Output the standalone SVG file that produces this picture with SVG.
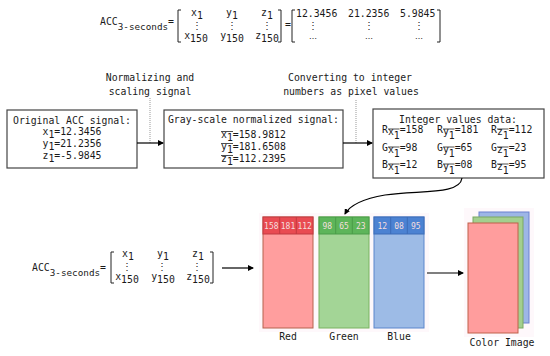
<svg xmlns="http://www.w3.org/2000/svg" width="550" height="356" viewBox="0 0 550 356">
<style>
text{font-family:"DejaVu Sans Mono","Liberation Mono",monospace;font-size:9.8px;fill:#1a1a1a}
.mid{text-anchor:middle}
.ell{font-family:"DejaVu Sans",sans-serif;font-size:8px}
.box{fill:#fff;stroke:#444;stroke-width:1.2}
.br{fill:none;stroke:#222;stroke-width:1}
.ov{stroke:#222;stroke-width:0.8}
.con{fill:none;stroke:#000;stroke-width:1.2}
.dot{fill:none;stroke:#999;stroke-width:1;stroke-dasharray:1,1}
.cell{font-size:8px;fill:#f4dede;text-anchor:middle}
.lbl{text-anchor:middle}
</style>
<defs>
<marker id="ah" markerWidth="6" markerHeight="6" refX="5" refY="3" orient="auto" markerUnits="userSpaceOnUse">
<path d="M0,0 L6,3 L0,6 Z" fill="#000"/>
</marker>
</defs>

<g id="top-matrix">
<text x="100" y="25">ACC<tspan dy="5" font-size="9.3">3-seconds</tspan><tspan dy="-5">=</tspan></text>
<path class="br" d="M181,10 H178 V42 H181"/>
<path class="br" d="M278,10 H281 V42 H278"/>
<text x="197" y="16" class="mid">x<tspan dy="3">1</tspan></text>
<text x="232" y="16" class="mid">y<tspan dy="3">1</tspan></text>
<text x="267" y="16" class="mid">z<tspan dy="3">1</tspan></text>
<text x="197" y="29" class="mid">⋮</text>
<text x="232" y="29" class="mid">⋮</text>
<text x="267" y="29" class="mid">⋮</text>
<text x="196" y="39" class="mid">x<tspan dy="3">150</tspan></text>
<text x="232" y="39" class="mid">y<tspan dy="3">150</tspan></text>
<text x="267" y="39" class="mid">z<tspan dy="3">150</tspan></text>
<text x="285" y="28">=</text>
<path class="br" d="M295,10 H292 V42 H295"/>
<path class="br" d="M437,10 H440 V42 H437"/>
<text x="296" y="17">12.3456</text>
<text x="348" y="17">21.2356</text>
<text x="400" y="17">5.9845</text>
<text x="313" y="29" class="mid">⋮</text>
<text x="369" y="29" class="mid">⋮</text>
<text x="419" y="29" class="mid">⋮</text>
<text x="313" y="39" class="mid ell">…</text>
<text x="369" y="39" class="mid ell">…</text>
<text x="419" y="39" class="mid ell">…</text>
</g>

<g id="label-normalizing">
<text x="150" y="81" class="mid">Normalizing and</text>
<text x="150" y="95" class="mid">scaling signal</text>
</g>
<g id="label-converting">
<text x="350" y="81" class="mid">Converting to integer</text>
<text x="351" y="95" class="mid">numbers as pixel values</text>
</g>

<g id="box-original">
<rect class="box" x="7" y="110" width="130" height="58"/>
<text x="72" y="124" class="mid">Original ACC signal:</text>
<text x="72" y="135" class="mid">x<tspan dy="3">1</tspan><tspan dy="-3">=12.3456</tspan></text>
<text x="72" y="147" class="mid">y<tspan dy="3">1</tspan><tspan dy="-3">=21.2356</tspan></text>
<text x="72" y="159" class="mid">z<tspan dy="3">1</tspan><tspan dy="-3">=-5.9845</tspan></text>
</g>

<g id="box-grayscale">
<rect class="box" x="164" y="110" width="179" height="58"/>
<text x="253.5" y="123" class="mid">Gray-scale normalized signal:</text>
<text x="221" y="138">x<tspan dy="3">1</tspan><tspan dy="-3">=158.9812</tspan></text>
<text x="221" y="150">y<tspan dy="3">1</tspan><tspan dy="-3">=181.6508</tspan></text>
<text x="221" y="162">z<tspan dy="3">1</tspan><tspan dy="-3">=112.2395</tspan></text>
<line class="ov" x1="221" y1="131.5" x2="233" y2="131.5"/>
<line class="ov" x1="221" y1="143.5" x2="233" y2="143.5"/>
<line class="ov" x1="221" y1="155.5" x2="233" y2="155.5"/>
</g>

<g id="box-integer">
<rect class="box" x="373" y="109" width="171" height="69"/>
<text x="458" y="123" class="mid">Integer values data:</text>
<text x="382" y="133">R<tspan dy="2">x</tspan><tspan dy="4">1</tspan><tspan dy="-6">=158</tspan></text>
<text x="437" y="133">R<tspan dy="2">y</tspan><tspan dy="4">1</tspan><tspan dy="-6">=181</tspan></text>
<text x="491" y="133">R<tspan dy="2">z</tspan><tspan dy="4">1</tspan><tspan dy="-6">=112</tspan></text>
<text x="382" y="151">G<tspan dy="2">x</tspan><tspan dy="4">1</tspan><tspan dy="-6">=98</tspan></text>
<text x="437" y="151">G<tspan dy="2">y</tspan><tspan dy="4">1</tspan><tspan dy="-6">=65</tspan></text>
<text x="491" y="151">G<tspan dy="2">z</tspan><tspan dy="4">1</tspan><tspan dy="-6">=23</tspan></text>
<text x="382" y="168">B<tspan dy="2">x</tspan><tspan dy="4">1</tspan><tspan dy="-6">=12</tspan></text>
<text x="437" y="168">B<tspan dy="2">y</tspan><tspan dy="4">1</tspan><tspan dy="-6">=08</tspan></text>
<text x="491" y="168">B<tspan dy="2">z</tspan><tspan dy="4">1</tspan><tspan dy="-6">=95</tspan></text>
<line class="ov" x1="388" y1="129" x2="399.5" y2="129"/>
<line class="ov" x1="443" y1="129" x2="454.5" y2="129"/>
<line class="ov" x1="497" y1="129" x2="508.5" y2="129"/>
<line class="ov" x1="388" y1="147" x2="399.5" y2="147"/>
<line class="ov" x1="443" y1="147" x2="454.5" y2="147"/>
<line class="ov" x1="497" y1="147" x2="508.5" y2="147"/>
<line class="ov" x1="388" y1="164" x2="399.5" y2="164"/>
<line class="ov" x1="443" y1="164" x2="454.5" y2="164"/>
<line class="ov" x1="497" y1="164" x2="508.5" y2="164"/>
</g>

<g id="bottom-matrix">
<text x="32" y="271">ACC<tspan dy="5" font-size="9.3">3-seconds</tspan><tspan dy="-5">=</tspan></text>
<path class="br" d="M114,252 H111 V283 H114"/>
<path class="br" d="M210,252 H213 V283 H210"/>
<text x="128" y="257" class="mid">x<tspan dy="3">1</tspan></text>
<text x="163" y="257" class="mid">y<tspan dy="3">1</tspan></text>
<text x="198" y="257" class="mid">z<tspan dy="3">1</tspan></text>
<text x="127" y="270" class="mid">⋮</text>
<text x="162" y="270" class="mid">⋮</text>
<text x="197" y="270" class="mid">⋮</text>
<text x="127" y="280" class="mid">x<tspan dy="3">150</tspan></text>
<text x="163" y="280" class="mid">y<tspan dy="3">150</tspan></text>
<text x="198" y="280" class="mid">z<tspan dy="3">150</tspan></text>
</g>

<rect x="259" y="213" width="170" height="119" fill="#fef8fb"/>
<rect x="464" y="208" width="70" height="129" fill="#fef8fb"/>

<g id="red-channel">
<rect x="263" y="217" width="50" height="111" fill="#ff9e9e" stroke="#b5634e"/>
<rect x="263" y="217" width="50" height="17" fill="#e94b52" stroke="#c23a40"/>
<line x1="279.7" y1="217" x2="279.7" y2="234" stroke="#c23a40"/>
<line x1="296.3" y1="217" x2="296.3" y2="234" stroke="#c23a40"/>
<text x="271.3" y="228.5" class="cell">158</text>
<text x="288" y="228.5" class="cell">181</text>
<text x="304.7" y="228.5" class="cell">112</text>
<text x="288" y="340" class="lbl">Red</text>
</g>

<g id="green-channel">
<rect x="319" y="217" width="50" height="111" fill="#a3d596" stroke="#78b260"/>
<rect x="319" y="217" width="50" height="17" fill="#5db55a" stroke="#4a9c48"/>
<line x1="335.7" y1="217" x2="335.7" y2="234" stroke="#4a9c48"/>
<line x1="352.3" y1="217" x2="352.3" y2="234" stroke="#4a9c48"/>
<text x="327.3" y="228.5" class="cell">98</text>
<text x="344" y="228.5" class="cell">65</text>
<text x="360.7" y="228.5" class="cell">23</text>
<text x="344" y="340" class="lbl">Green</text>
</g>

<g id="blue-channel">
<rect x="374" y="217" width="50" height="111" fill="#9dbbe6" stroke="#5b85cc"/>
<rect x="374" y="217" width="50" height="17" fill="#4c82d2" stroke="#3c6cb8"/>
<line x1="390.7" y1="217" x2="390.7" y2="234" stroke="#3c6cb8"/>
<line x1="407.3" y1="217" x2="407.3" y2="234" stroke="#3c6cb8"/>
<text x="382.3" y="228.5" class="cell">12</text>
<text x="399" y="228.5" class="cell">08</text>
<text x="415.7" y="228.5" class="cell">95</text>
<text x="399" y="340" class="lbl">Blue</text>
</g>

<g id="color-image">
<rect x="479" y="212" width="50" height="111" fill="#9db6e6" stroke="#6a80d0"/>
<rect x="473" y="217" width="50" height="111" fill="#a3cf8e" stroke="#7aa862"/>
<rect x="468" y="223" width="50" height="110" fill="#ff9d9d" stroke="#c0604a"/>
<text x="502" y="346" class="lbl">Color Image</text>
</g>

<g id="connectors">
<line class="dot" x1="150" y1="98" x2="150" y2="143"/>
<line class="dot" x1="356" y1="100" x2="356" y2="143"/>
<line class="con" x1="137" y1="143" x2="163" y2="143" marker-end="url(#ah)"/>
<line class="con" x1="343" y1="143" x2="372" y2="143" marker-end="url(#ah)"/>
<line class="con" x1="222" y1="268" x2="253" y2="268" marker-end="url(#ah)"/>
<line class="con" x1="427" y1="273" x2="463" y2="273" marker-end="url(#ah)"/>
<path class="con" d="M462,178 C460,195 420,190 385,195 C362,199 350,205 345,214" marker-end="url(#ah)"/>
</g>
</svg>
